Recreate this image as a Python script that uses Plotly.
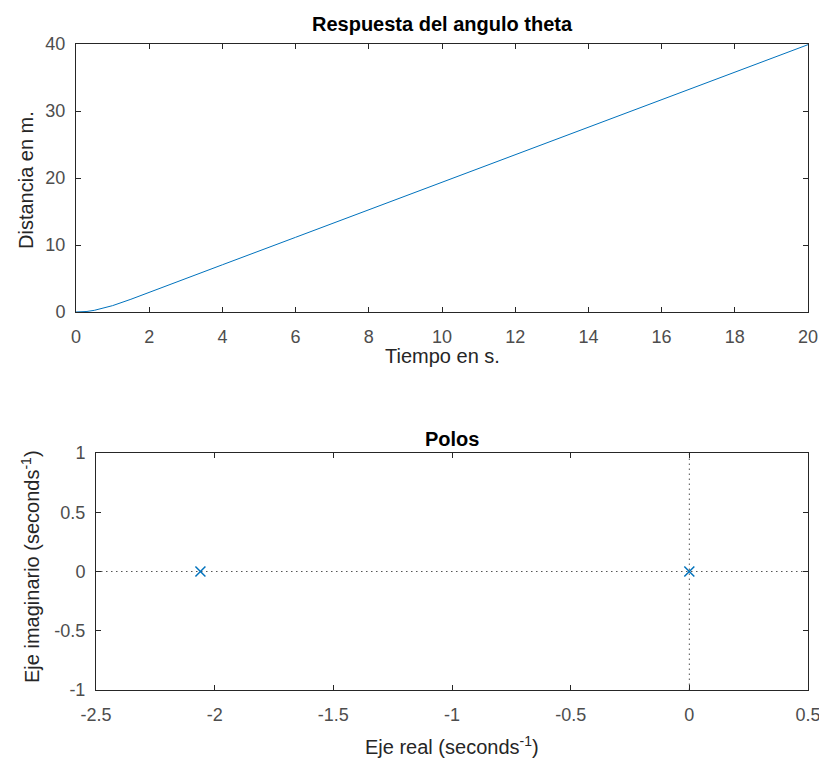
import plotly.graph_objects as go

# Top plot: ramp response
t_vals = [0, 0.3, 0.5, 0.75, 1.0, 1.5, 2.0, 3.0, 4.0, 6.0, 8.0, 10.0, 12.0, 14.0, 16.0, 18.0, 20.0]
dist_vals = [0, 0.08, 0.25, 0.55, 0.95, 1.9, 2.95, 5.0, 7.05, 11.15, 15.25, 19.35, 23.45, 27.55, 31.65, 35.8, 39.9]

# Bottom plot: poles
pole_re = [-2.06, 0.0]
pole_im = [0.0, 0.0]

x_ticks_top = [0, 2, 4, 6, 8, 10, 12, 14, 16, 18, 20]
y_ticks_top = [0, 10, 20, 30, 40]
x_ticks_bot = [-2.5, -2, -1.5, -1, -0.5, 0, 0.5]
x_ticklabels_bot = ["-2.5", "-2", "-1.5", "-1", "-0.5", "0", "0.5"]
y_ticks_bot = [-1, -0.5, 0, 0.5, 1]
y_ticklabels_bot = ["-1", "-0.5", "0", "0.5", "1"]

OFF = 8  # page body margin
W, H = 827 - OFF, 769 - OFF
blue = "#0072BD"
axcol = "#262626"
tickcol = "#4d4d4d"
FONT = "Liberation Sans, Arial, sans-serif"

def px(x):
    return (x - OFF) / W

def py(y):
    return 1 - (y - OFF) / H

fig = go.Figure()
fig.add_trace(go.Scatter(x=t_vals, y=dist_vals, mode="lines", line=dict(color=blue, width=1),
                         xaxis="x", yaxis="y", showlegend=False))
# dotted reference lines
fig.add_trace(go.Scatter(x=[-2.5, 0.5], y=[0, 0], mode="lines", line=dict(color="#555555", width=1, dash="1.5px,3.5px"),
                         xaxis="x2", yaxis="y2", showlegend=False))
fig.add_trace(go.Scatter(x=[0, 0], y=[-1, 1], mode="lines", line=dict(color="#555555", width=1, dash="1.5px,3.5px"),
                         xaxis="x2", yaxis="y2", showlegend=False))
fig.add_trace(go.Scatter(x=pole_re, y=pole_im, mode="markers",
                         marker=dict(symbol="x-thin", size=10, line=dict(color=blue, width=1.5), color=blue),
                         xaxis="x2", yaxis="y2", showlegend=False))

def ax(xaxis=True, **kw):
    d = dict(showgrid=False, zeroline=False, showline=True, linecolor=axcol, linewidth=1,
             mirror="allticks", ticks="inside", ticklen=5, tickcolor=axcol, automargin=False,
             ticklabelstandoff=8 if xaxis else 6,
             tickfont=dict(family=FONT, size=18, color=tickcol))
    d.update(kw)
    return d

fig.update_layout(
    width=W, height=H,
    margin=dict(l=0, r=0, t=0, b=0),
    paper_bgcolor="white", plot_bgcolor="white",
    xaxis=ax(True, domain=[px(76), px(808)], range=[0, 20], tickvals=x_ticks_top, anchor="y"),
    yaxis=ax(False, domain=[py(312), py(44)], range=[0, 40], tickvals=y_ticks_top, anchor="x"),
    xaxis2=ax(True, domain=[px(96), px(808)], range=[-2.5, 0.5], tickvals=x_ticks_bot, ticktext=x_ticklabels_bot, anchor="y2"),
    yaxis2=ax(False, domain=[py(690), py(453)], range=[-1, 1], tickvals=y_ticks_bot, ticktext=y_ticklabels_bot, anchor="x2"),
)

def ann(text, x, y, size, angle=0, bold=False, color="#262626"):
    fig.add_annotation(text=f"<b>{text}</b>" if bold else text, x=px(x), y=py(y),
                       xref="paper", yref="paper", showarrow=False, textangle=angle,
                       font=dict(family=FONT, size=size, color=color), xanchor="center", yanchor="middle")

ann("Respuesta del angulo theta", 442, 24, 20, bold=True, color="black")
ann("Tiempo en s.", 442, 356, 20)
ann("Distancia en m.", 26, 180, 20, angle=-90)
ann("Polos", 452, 439, 20, bold=True, color="black")
ann("Eje real (seconds<sup>-1</sup>)", 452, 745, 20)
ann("Eje imaginario (seconds<sup>-1</sup>)", 30, 567, 20, angle=-90)

fig.write_html("out.html")
